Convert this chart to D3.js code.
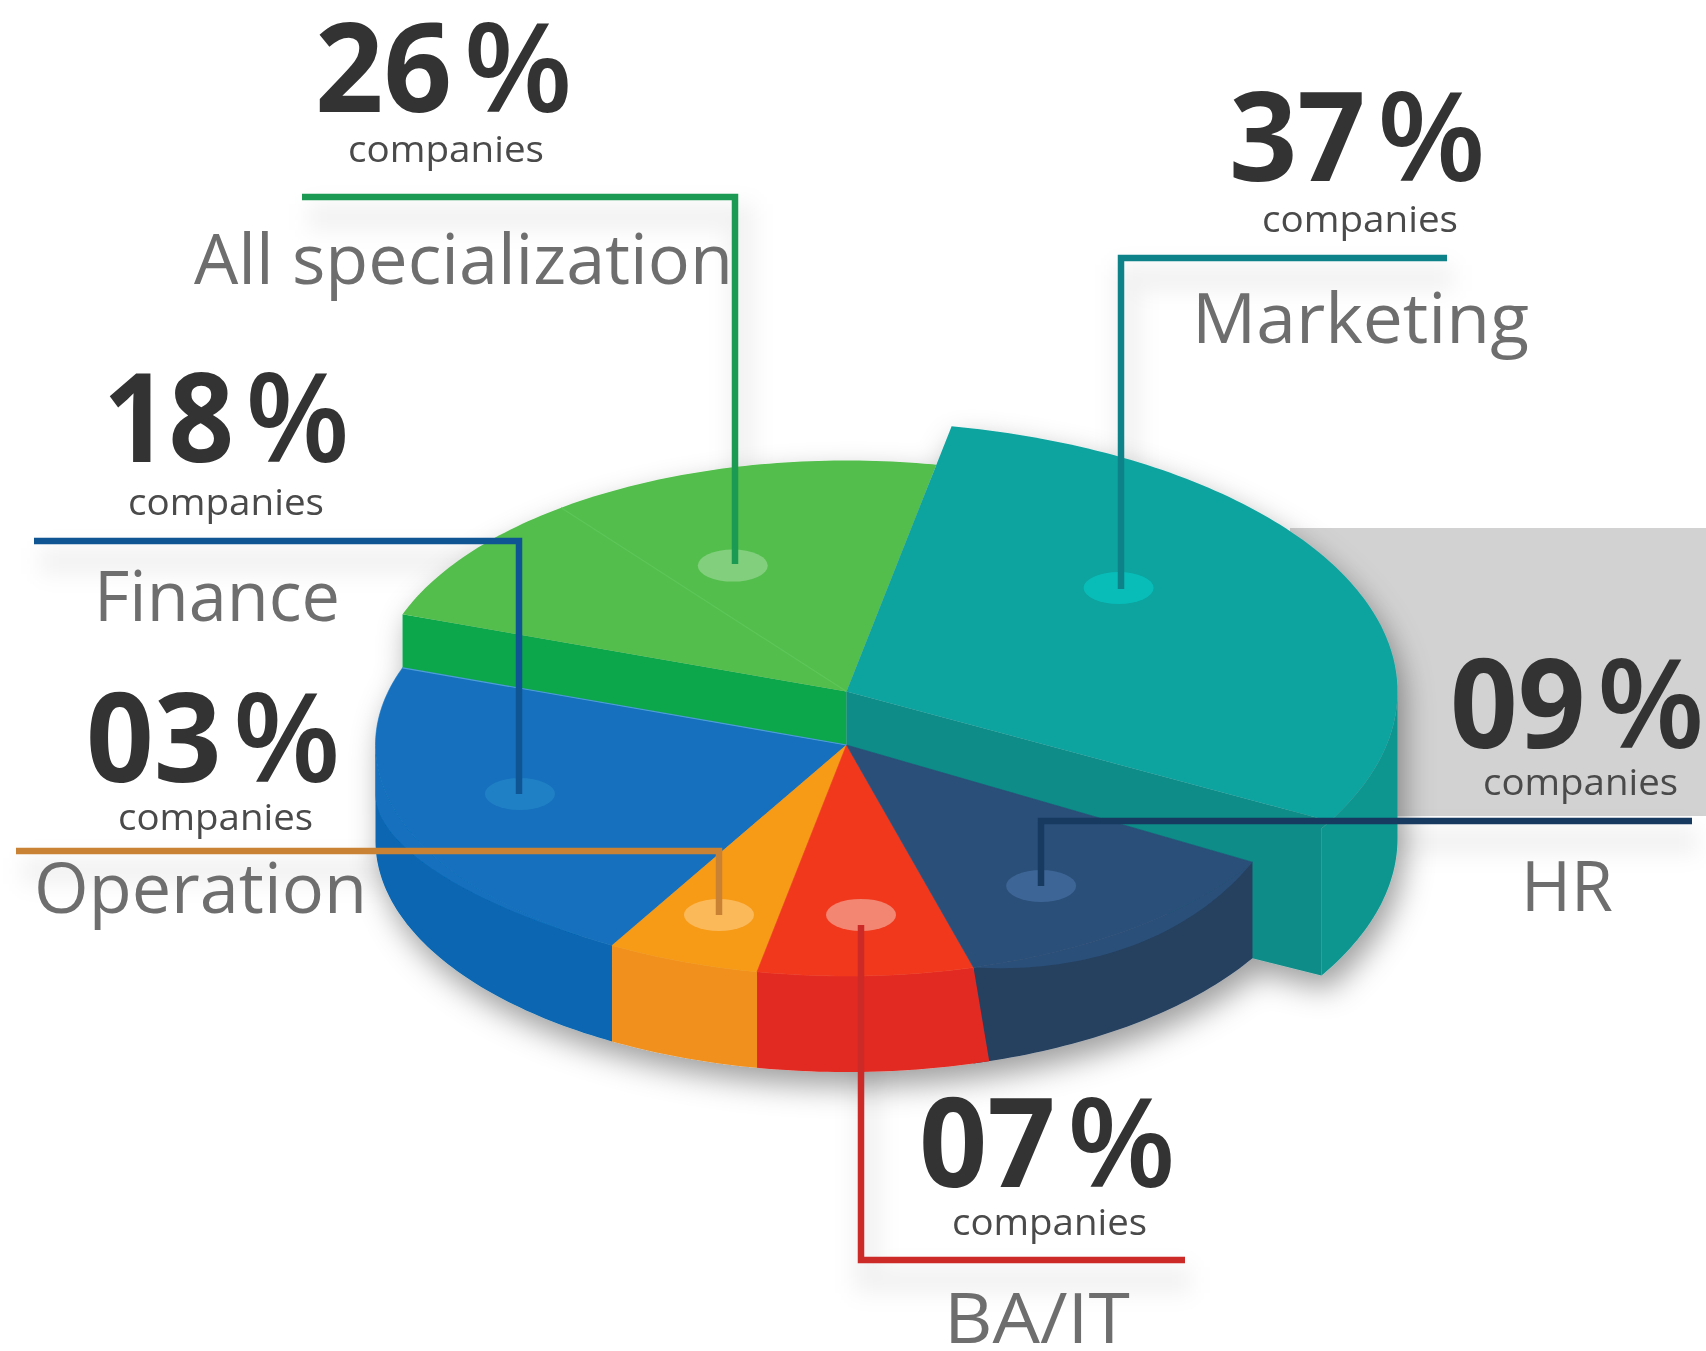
<!DOCTYPE html>
<html><head><meta charset="utf-8">
<script src="https://cdn.jsdelivr.net/npm/d3@7/dist/d3.min.js"></script>
<style>html,body{margin:0;padding:0;background:#fff}svg{display:block;filter:blur(.5px)}text{font-family:"Open Sans",sans-serif}</style>
</head><body><div id="chart"></div>
<script>
// ---- data ----
const categories = ["Marketing","HR","BA/IT","Operation","Finance","All specialization"];
const percentLabels = [37,9,7,3,18,26];
const unitLabel = "companies";
// slice sizes as drawn in the picture (degrees of sweep; the artwork is not proportional)
const drawnSweep = [109.5,43.9,26.6,18.9,79.7,81.5];

// ---- styles ----
const topColors  = ["#11a39f","#2c4f78","#f1391e","#f79a18","#1370bd","#52be4c"];
const sideColors = ["#0c9590","#254060","#e32a22","#f1901e","#0766b1","#0fa74b"];
const dotColors  = ["#08bdb8","#3d6595","#f28672","#fbb95a","#2080c5","#82cf7e"];
const lineColors = ["#0d8389","#173a60","#cc2a26","#c98234","#0f5594","#1a9a52"];
const cutFaceColor = "#0a8c88";

// ---- layout ----
const W=1706,H=1351;
const cx=846.5, baseY=745, raisedY=691.5, baseRx=471, tiltRy=.4905;
const tealRx=551, baseDepth=96, greenDepth=54, tealDepth=147, tealTopTrim=1.8, startAngle=11;
const blueBulge=50, navyBulge=17, redFootSlant=2;
const dotPolar=[[52.2,.625],[145.9,.737],[177.6,.736],[200.2,.784],[253,.725],[336.1,.596]];
const leaderPaths=[
 [[1447,258],[1121,258],[1121,589]],
 [[1692,821],[1041,821],[1041,886]],
 [[1185,1260],[861,1260],[861,925]],
 [[16,851],[719,851],[719,915]],
 [[34,541],[519,541],[519,794]],
 [[302,197],[735,197],[735,564]]];
// [left,right,baseline] for number, unit, name
const numBox =[[1229,1482,181],[1450,1701,748],[919,1172,1187],[86,337,782],[103,346,462],[315,569,112]];
const unitBox=[[1262,1458,232],[1483,1678,795],[952,1147,1235],[118,313,830],[128,324,515],[348,544,162]];
const nameBox=[[1192,1529,343],[1521,1613,911],[944,1130,1343],[34,367,913],[94,340,621],[194,733,284]];
const percentStart=.585, digitShare=.54, percentShare=.43;

const svg=d3.select("#chart").append("svg").attr("width",W).attr("height",H).attr("viewBox",[0,0,W,H]);
const defs=svg.append("defs");
const fs=defs.append("filter").attr("id","pieShadow").attr("x","-20%").attr("y","-20%").attr("width","140%").attr("height","150%");
fs.append("feDropShadow").attr("dx",6).attr("dy",14).attr("stdDeviation",15).attr("flood-color","#000").attr("flood-opacity",.38);
defs.append("filter").attr("id","soft").attr("x","-20%").attr("y","-200%").attr("width","140%").attr("height","500%")
  .append("feGaussianBlur").attr("stdDeviation",11);

svg.append("rect").attr("width",W).attr("height",H).attr("fill","#fff");
svg.append("rect").attr("x",1290).attr("y",528).attr("width",W-1290).attr("height",288).attr("fill","#d2d2d2");

const line=d3.line();
const rad=d3.scaleLinear().domain([0,360]).range([0,2*Math.PI]);
const arcs=d3.pie().sort(null).startAngle(rad(startAngle)).endAngle(rad(startAngle+360))(drawnSweep);
const deg=a=>a*180/Math.PI;

// scales from unit-circle coordinates to pixels
function projector(rx,cy){
  const x=d3.scaleLinear().domain([-1,1]).range([cx-rx,cx+rx]);
  const y=d3.scaleLinear().domain([-1,1]).range([cy-rx*tiltRy,cy+rx*tiltRy]);
  return (angle,r=1,lift=0)=>[x(r*Math.sin(rad(angle))),y(-r*Math.cos(rad(angle)))+lift];
}
const pBase=projector(baseRx,baseY), pGreen=projector(baseRx,raisedY), pTeal=projector(tealRx,raisedY);
const sweep=(p,a0,a1,lift=0)=>d3.range(a0,a1,1).concat([a1]).map(a=>p(a,1,lift));
const wedge=(p,a0,a1)=>line([p(0,0)].concat(sweep(p,a0,a1)))+"Z";
const wall=(p,a0,a1,d,foot0=a0)=>line(sweep(p,a0,a1).concat(sweep(p,foot0,a1,d).reverse()))+"Z";
// a sliver that lets the top face roll over the rim of the disc
const rim=(p,a0,a1,f)=>line(sweep(p,a0,a1).concat(
  d3.range(a0,a1,1).concat([a1]).map(a=>p(a,1,f((a-a0)/(a1-a0)))).reverse()))+"Z";

// leader shadows
svg.append("g").selectAll("path").data(leaderPaths).join("path")
  .attr("d",d=>line(d.map(([x,y])=>[x+6,y+20]))).attr("fill","none").attr("stroke","#000")
  .attr("stroke-opacity",.055).attr("stroke-width",26).attr("filter","url(#soft)");

const pie=svg.append("g").attr("filter","url(#pieShadow)");
const ang=arcs.map(a=>[deg(a.startAngle),deg(a.endAngle)]);

// raised green slice: front cut face, top
pie.append("path").attr("fill",sideColors[5]).attr("d",
  line([pGreen(0,0),pGreen(ang[5][0]),pGreen(ang[5][0],1,greenDepth),pBase(0,0)])+"Z");
pie.append("path").attr("fill",topColors[5]).attr("d",wedge(pGreen,ang[5][0],ang[5][1]));
pie.append("path").attr("stroke","#5dc657").attr("stroke-width",1.2).attr("fill","none")
  .attr("d",line([pGreen(322.7),pGreen(0,0)]));

// raised teal slice: cut face, outer wall, top
const tealEnd=ang[0][1], tealTopEnd=tealEnd-tealTopTrim;
pie.append("path").attr("fill",cutFaceColor).attr("d",
  line([pTeal(0,0),pTeal(tealTopEnd),pTeal(tealEnd),pTeal(tealEnd,1,tealDepth),pBase(tealEnd,1,baseDepth),pBase(0,0)])+"Z");
pie.append("path").attr("fill",sideColors[0]).attr("d",wall(pTeal,90,tealEnd,tealDepth));
pie.append("path").attr("fill",topColors[0]).attr("d",wedge(pTeal,ang[0][0],tealTopEnd));

// base slices: outer walls then tops
[4,3,1,2].forEach(i=>{
  const a0=ang[i][0], a1=Math.min(ang[i][1],270);
  pie.append("path").attr("fill",sideColors[i])
    .attr("d",wall(pBase,a0,a1,baseDepth,i===2?a0-redFootSlant:a0));
});
[4,3,2,1].forEach(i=>{
  pie.append("path").attr("fill",topColors[i]).attr("stroke",topColors[i]).attr("stroke-width",.6)
    .attr("d",wedge(pBase,ang[i][0],ang[i][1]));
});
pie.append("path").attr("fill",topColors[4]).attr("d",rim(pBase,ang[4][0],270,t=>blueBulge*t*t));
pie.append("path").attr("fill",topColors[1]).attr("d",rim(pBase,ang[1][0],ang[1][1],t=>navyBulge*4*t*(1-t)));
pie.append("path").attr("stroke","#4f9fd6").attr("stroke-width",1.2).attr("fill","none")
  .attr("d",line([pBase(ang[4][1]),pBase(0,0)]));

// anchor dots
const dotPos=dotPolar.map(([a,r],i)=>(i===0?pTeal:(i===5?pGreen:pBase))(a,r));
svg.append("g").selectAll("ellipse").data(dotPos).join("ellipse")
  .attr("cx",d=>d[0]).attr("cy",d=>d[1]).attr("rx",35).attr("ry",16)
  .attr("fill",(d,i)=>dotColors[i]);

// labels
function fit(sel,box,size,weight,color){
  sel.attr("x",(d,i)=>box[i][0]).attr("y",(d,i)=>box[i][2])
    .attr("font-size",size).attr("font-weight",weight).attr("fill",color)
    .attr("textLength",(d,i)=>box[i][1]-box[i][0]).attr("lengthAdjust","spacingAndGlyphs");
}
const pad=d3.format("02d");
const nums=svg.append("g").selectAll("text").data(percentLabels).join("text")
  .attr("y",(d,i)=>numBox[i][2]).attr("font-size",124).attr("fill","#333333");
nums.append("tspan").text(d=>pad(d)).attr("font-weight",700)
  .attr("x",(d,i)=>numBox[i][0])
  .attr("textLength",(d,i)=>(numBox[i][1]-numBox[i][0])*digitShare).attr("lengthAdjust","spacingAndGlyphs");
nums.append("tspan").text("%").attr("font-weight",600)
  .attr("x",(d,i)=>numBox[i][0]+(numBox[i][1]-numBox[i][0])*percentStart)
  .attr("textLength",(d,i)=>(numBox[i][1]-numBox[i][0])*percentShare).attr("lengthAdjust","spacingAndGlyphs");
svg.append("g").selectAll("text").data(percentLabels).join("text")
  .text(unitLabel).call(fit,unitBox,37,400,"#4a4a4a");
svg.append("g").selectAll("text").data(categories).join("text")
  .text(d=>d).call(fit,nameBox,70,400,"#6e6e6e");

// leaders
svg.append("g").selectAll("path").data(leaderPaths).join("path")
  .attr("d",d=>line(d)).attr("fill","none").attr("stroke",(d,i)=>lineColors[i])
  .attr("stroke-width",6.5).attr("stroke-linejoin","miter");
</script></body></html>
